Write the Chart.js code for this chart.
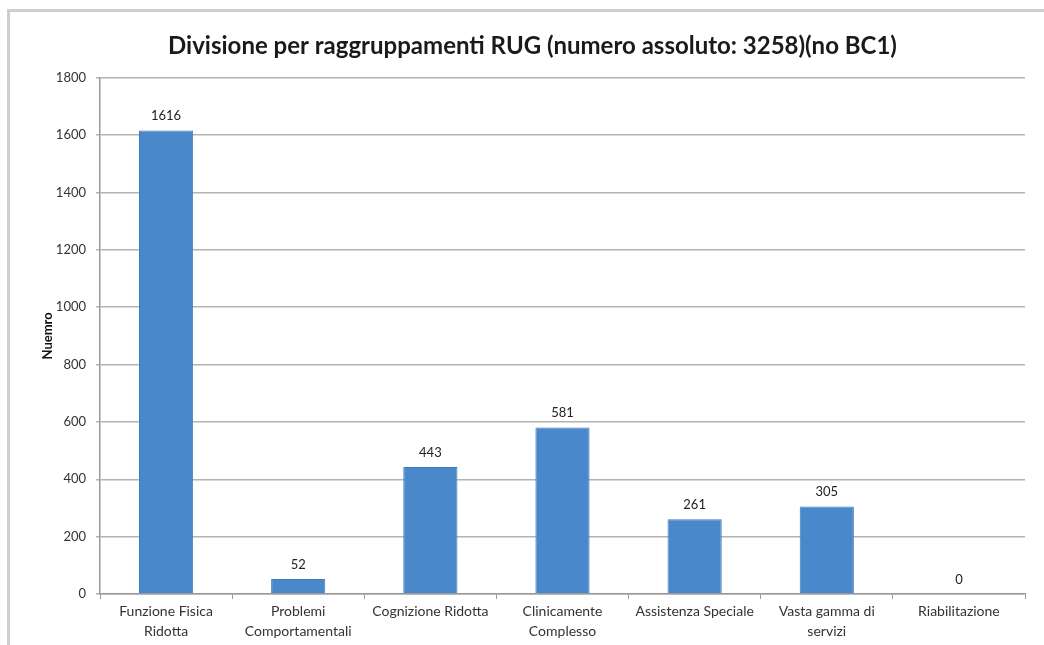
<!DOCTYPE html>
<html>
<head>
<meta charset="utf-8">
<script src="https://cdn.jsdelivr.net/npm/chart.js@4"></script>
<style>
  html, body { margin: 0; padding: 0; background: #fff; }
  body { width: 1044px; height: 645px; position: relative; overflow: hidden; }
  #frame {
    position: absolute; left: 7px; top: 9px; width: 1100px; height: 700px;
    border-left: 3px solid #cfcfcf; border-top: 3px solid #cfcfcf;
  }
  #chart { position: absolute; left: 0; top: 0; }
</style>
</head>
<body>
<div id="frame"></div>
<canvas id="chart" width="1044" height="645"></canvas>
<script>
// categories and values
const categories = [
    ['Funzione Fisica', 'Ridotta'],
    ['Problemi', 'Comportamentali'],
    'Cognizione Ridotta',
    ['Clinicamente', 'Complesso'],
    'Assistenza Speciale',
    ['Vasta gamma di', 'servizi'],
    'Riabilitazione'
];
const counts = [1616, 52, 443, 581, 261, 305, 0];
const yTicks = [0, 200, 400, 600, 800, 1000, 1200, 1400, 1600, 1800];

const FONT = 'Lato, "Open Sans", sans-serif';

// draws the value above each bar
const valueLabels = {
    id: 'valueLabels',
    afterDatasetsDraw(chart) {
        const ctx = chart.ctx;
        const meta = chart.getDatasetMeta(0);
        ctx.save();
        ctx.font = '13px ' + FONT;
        ctx.fillStyle = '#222';
        ctx.textAlign = 'center';
        ctx.textBaseline = 'bottom';
        meta.data.forEach((bar, i) => {
            ctx.fillText(String(counts[i]), bar.x, bar.y - 8);
        });
        ctx.restore();
    }
};

new Chart(document.getElementById('chart'), {
    type: 'bar',
    data: {
        labels: categories,
        datasets: [{
            data: counts,
            backgroundColor: '#4a88cc',
            borderColor: '#3f7bbf',
            borderWidth: 1,
            barPercentage: 0.41,
            categoryPercentage: 1.0
        }]
    },
    options: {
        responsive: false,
        animation: false,
        layout: { padding: { left: 40, right: 19, top: 0, bottom: 0 } },
        plugins: {
            legend: { display: false },
            tooltip: { enabled: false },
            title: {
                display: true,
                text: 'Divisione per raggruppamenti RUG (numero assoluto: 3258)(no BC1)',
                color: '#1a1a1a',
                font: { family: FONT, size: 24, weight: 'bold' },
                padding: { top: 32, bottom: 17 }
            }
        },
        scales: {
            x: {
                afterFit(s) { s.height = 51; },
                grid: {
                    display: true,
                    drawOnChartArea: false,
                    drawTicks: true,
                    tickLength: 5,
                    color: '#999',
                    offset: true
                },
                border: { color: '#999', width: 1.5 },
                ticks: {
                    color: '#333',
                    font: { family: FONT, size: 14, lineHeight: 1.4 },
                    maxRotation: 0,
                    autoSkip: false,
                    padding: 3
                }
            },
            y: {
                min: 0,
                max: 1800,
                afterFit(s) { s.width = 60; },
                afterBuildTicks(s) { s.ticks = yTicks.map(v => ({ value: v })); },
                grid: {
                    color: '#b3b3b3',
                    lineWidth: 1.5,
                    tickLength: 4
                },
                border: { color: '#999', width: 1.5 },
                ticks: {
                    color: '#333',
                    font: { family: FONT, size: 13 },
                    padding: 10,
                    callback: v => String(v)
                },
                title: {
                    display: true,
                    text: 'Nuemro',
                    color: '#111',
                    font: { family: FONT, size: 13, weight: 'bold' },
                    padding: { top: 0, bottom: 0 }
                }
            }
        }
    },
    plugins: [valueLabels]
});
</script>
</body>
</html>
